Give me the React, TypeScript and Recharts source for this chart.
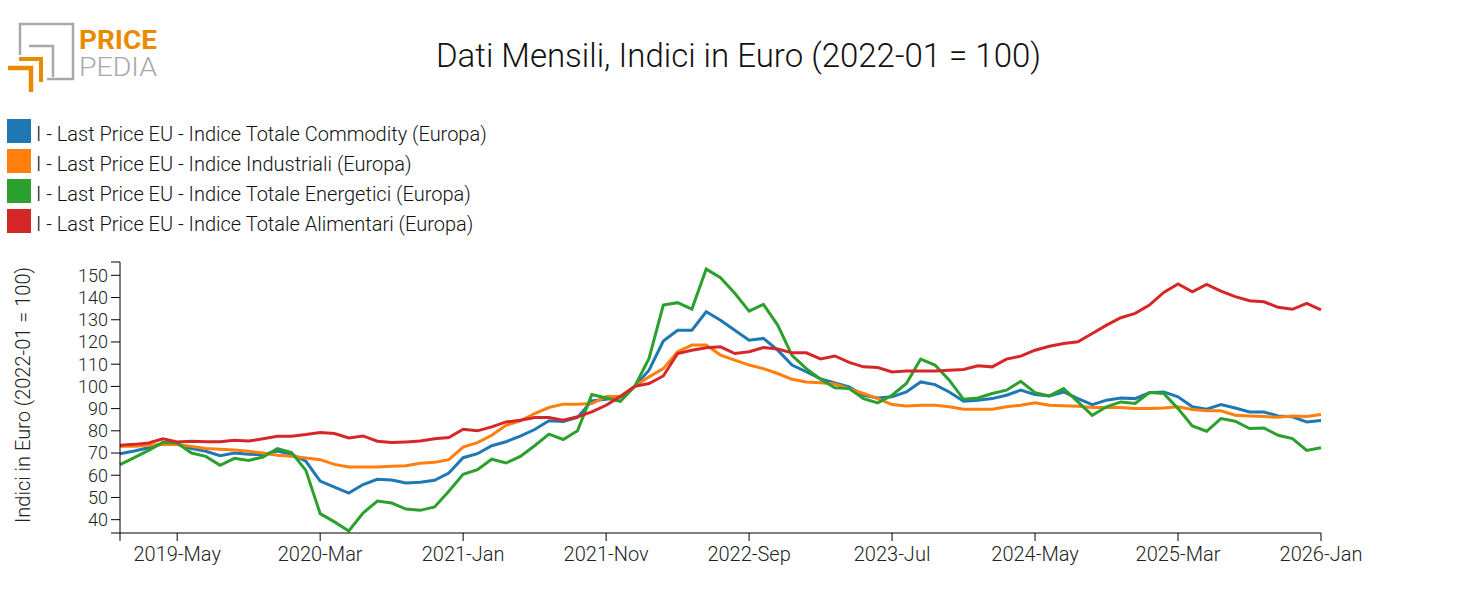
import React from 'react';
import { LineChart, Line, XAxis, YAxis } from 'recharts';

const MONTHS = ['Jan', 'Feb', 'Mar', 'Apr', 'May', 'Jun', 'Jul', 'Aug', 'Sep', 'Oct', 'Nov', 'Dec'];
const YEARS = [2019, 2020, 2021, 2022, 2023, 2024, 2025, 2026];

// monthly categories 2019-Jan .. 2026-Jan
const categories: string[] = [];
YEARS.forEach((y) => MONTHS.forEach((m) => categories.push(`${y}-${m}`)));
categories.splice(85);

const commodity = [
  69.7, 70.9, 72.4, 74.2, 73.9, 72.0, 70.8, 68.8, 70.0, 69.4, 69.3, 70.9,
  69.4, 66.3, 57.4, 54.7, 52.0, 55.8, 58.2, 57.9, 56.5, 56.8, 57.7, 61.0,
  67.9, 69.7, 73.3, 75.1, 77.6, 80.6, 84.5, 84.2, 86.0, 93.5, 94.2, 95.3,
  100, 107.3, 120.4, 125.3, 125.3, 133.6, 129.8, 125.3, 120.8, 121.6, 116.3, 109.6,
  106.6, 103.4, 101.5, 99.8, 96.0, 94.8, 95.3, 97.5, 102.0, 100.8, 97.5, 93.3,
  93.8, 94.5, 96.0, 98.3, 96.3, 95.7, 97.5, 94.5, 91.8, 93.8, 94.8, 94.5,
  97.2, 97.5, 95.3, 90.8, 89.7, 91.8, 90.3, 88.5, 88.5, 86.7, 86.3, 84.0,
  84.6,
];

const industriali = [
  73.0, 73.0, 73.5, 74.0, 73.8, 73.0, 72.0, 71.7, 71.4, 70.8, 70.0, 69.0,
  68.5, 67.8, 67.0, 64.9, 63.7, 63.7, 63.7, 64.0, 64.3, 65.4, 65.8, 67.0,
  72.7, 74.7, 78.0, 82.5, 84.5, 87.8, 90.5, 92.0, 92.0, 92.3, 95.4, 95.4,
  100, 104.3, 108.0, 115.6, 118.6, 118.6, 114.1, 111.8, 109.6, 108.0, 105.8, 103.2,
  102.0, 101.6, 101.1, 99.0, 96.8, 94.5, 91.8, 91.2, 91.5, 91.5, 90.8, 89.7,
  89.7, 89.7, 90.8, 91.5, 92.6, 91.5, 91.3, 91.1, 90.5, 90.5, 90.5, 90.0,
  90.0, 90.3, 90.8, 89.6, 89.0, 89.0, 87.0, 86.7, 86.4, 86.1, 86.7, 86.4,
  87.3,
];

const energetici = [
  64.8, 67.9, 71.2, 74.8, 74.5, 70.0, 68.5, 64.5, 67.6, 66.7, 68.2, 72.0,
  70.2, 62.2, 42.7, 39.0, 34.9, 43.0, 48.4, 47.5, 44.8, 44.2, 45.7, 52.8,
  60.4, 62.5, 67.2, 65.5, 68.5, 73.3, 78.5, 76.1, 80.0, 96.3, 94.8, 93.3,
  100, 112.6, 136.6, 137.7, 134.8, 152.8, 148.9, 141.9, 133.9, 136.9, 127.6, 114.0,
  108.0, 103.2, 99.4, 99.0, 94.5, 92.6, 96.0, 101.3, 112.3, 109.6, 102.8, 94.2,
  94.8, 96.8, 98.3, 102.3, 97.2, 95.7, 99.0, 93.0, 87.0, 90.8, 93.0, 92.3,
  97.2, 96.8, 90.0, 82.2, 79.8, 85.5, 84.3, 81.0, 81.3, 78.0, 76.5, 71.2,
  72.4,
];

const alimentari = [
  73.5, 73.9, 74.5, 76.4, 75.0, 75.3, 75.1, 75.1, 75.7, 75.4, 76.4, 77.6,
  77.6, 78.3, 79.2, 78.8, 76.8, 77.7, 75.3, 74.7, 75.0, 75.4, 76.4, 77.0,
  80.7, 80.0, 81.8, 84.0, 84.8, 86.0, 86.0, 84.8, 86.3, 88.5, 91.5, 95.5,
  100, 101.3, 104.7, 114.8, 116.3, 117.4, 117.8, 114.8, 115.6, 117.5, 116.8, 115.1,
  115.1, 112.4, 113.7, 110.8, 108.8, 108.5, 106.5, 106.9, 106.9, 106.9, 107.3, 107.6,
  109.3, 108.8, 112.3, 113.6, 116.3, 118.1, 119.3, 120.1, 123.8, 127.6, 130.9, 132.9,
  136.6, 142.3, 146.1, 142.6, 145.9, 142.9, 140.4, 138.6, 138.1, 135.6, 134.7, 137.4,
  134.4,
];

const xTicks = ['2019-Jan', '2019-May', '2020-Mar', '2021-Jan', '2021-Nov', '2022-Sep', '2023-Jul', '2024-May', '2025-Mar', '2026-Jan'];
const yDomain = [34, 156];
const yTicks = [34, 40, 50, 60, 70, 80, 90, 100, 110, 120, 130, 140, 150, 156];

const seriesNames = [
  'I - Last Price EU - Indice Totale Commodity (Europa)',
  'I - Last Price EU - Indice Industriali (Europa)',
  'I - Last Price EU - Indice Totale Energetici (Europa)',
  'I - Last Price EU - Indice Totale Alimentari (Europa)',
];
const seriesKeys = ['commodity', 'industriali', 'energetici', 'alimentari'];
const colors = ['#1f77b4', '#ff7f0e', '#2ca02c', '#d62728'];

const data = categories.map((date, i) => ({
  date,
  commodity: commodity[i],
  industriali: industriali[i],
  energetici: energetici[i],
  alimentari: alimentari[i],
}));

const FONT = 'Roboto, sans-serif';

const Logo = () => (
  <g>
    <path d="M20,55 V24 H73 V79 H47" fill="none" stroke="#a8a8a8" strokeWidth={2.5} />
    <path d="M29,46 H53 V77" fill="none" stroke="#a8a8a8" strokeWidth={2.5} />
    <path d="M19,59 H41 V82" fill="none" stroke="#e88b00" strokeWidth={4} />
    <path d="M8,68 H31 V92" fill="none" stroke="#e88b00" strokeWidth={4.5} />
    <text x={79} y={49} fontFamily={FONT} fontWeight={700} fontSize={26} fill="#e88b00" textLength={78} lengthAdjust="spacingAndGlyphs">PRICE</text>
    <text x={79} y={76} fontFamily={FONT} fontWeight={300} fontSize={26} fill="#a8a8a8" textLength={78} lengthAdjust="spacingAndGlyphs">PEDIA</text>
  </g>
);

export default function App() {
  const hideEnds = (v: any) => (v === '2019-Jan' || v === yDomain[0] || v === yDomain[1] ? '' : String(v));
  return (
    <div style={{ position: 'absolute', left: 0, top: 0, width: 1477, height: 615, background: '#fff' }}>
      <div style={{ position: 'absolute', left: 0, top: 0 }}>
        <LineChart
          width={1477}
          height={615}
          data={data}
          margin={{ top: 262, right: 156, bottom: 42, left: 50 }}
        >
          <XAxis
            dataKey="date"
            ticks={xTicks}
            interval={0}
            padding={{ left: 0, right: 0 }}
            height={40}
            tickSize={8}
            tickMargin={6}
            stroke="#000"
            tick={{ fontFamily: FONT, fontWeight: 300, fontSize: 20, fill: '#222' }}
            tickFormatter={hideEnds}
          />
          <YAxis
            type="number"
            domain={yDomain}
            ticks={yTicks}
            interval={0}
            width={70}
            tickSize={9}
            tickMargin={3}
            stroke="#000"
            tick={{ fontFamily: FONT, fontWeight: 300, fontSize: 18, fill: '#222' }}
            tickFormatter={hideEnds}
          />
          {seriesKeys.map((k, i) => (
            <Line
              key={k}
              type="linear"
              dataKey={k}
              name={seriesNames[i]}
              stroke={colors[i]}
              strokeWidth={3}
              dot={false}
              isAnimationActive={false}
            />
          ))}
        </LineChart>
      </div>
      <svg width={1477} height={615} style={{ position: 'absolute', left: 0, top: 0, pointerEvents: 'none' }}>
        <Logo />
        <text x={738.5} y={67} textAnchor="middle" fontFamily={FONT} fontWeight={300} fontSize={33} fill="#111">
          Dati Mensili, Indici in Euro (2022-01 = 100)
        </text>
        {seriesNames.map((name, i) => (
          <g key={name}>
            <rect x={7} y={119 + i * 30} width={24} height={24} fill={colors[i]} />
            <text x={36} y={141 + i * 30} fontFamily={FONT} fontWeight={300} fontSize={20} fill="#111">
              {name}
            </text>
          </g>
        ))}
        <text
          transform="translate(30,395) rotate(-90)"
          textAnchor="middle"
          fontFamily={FONT}
          fontWeight={300}
          fontSize={20}
          fill="#222"
        >
          Indici in Euro (2022-01 = 100)
        </text>
      </svg>
    </div>
  );
}
